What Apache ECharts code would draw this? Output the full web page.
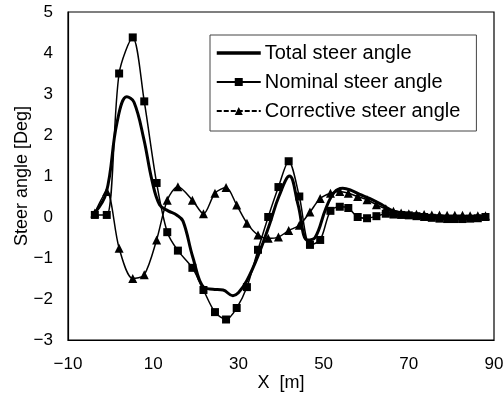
<!DOCTYPE html>
<html>
<head>
<meta charset="utf-8">
<script src="https://cdn.jsdelivr.net/npm/echarts@6/dist/echarts.min.js"></script>
<style>
  html, body { margin: 0; padding: 0; background: #fff; }
  #chart { width: 503px; height: 396px; }
</style>
</head>
<body>
<div id="chart"></div>
<script>
// Sample positions along the path [m] for the nominal and corrective signals
const stations = [-3.7, -0.9, 2.0, 5.2, 7.9, 10.8, 13.3, 15.8, 19.2, 21.8, 24.5, 27.1, 29.6, 32.0, 34.6, 37.0, 39.4, 41.8, 44.3, 46.8, 49.2, 51.6, 53.8, 55.8, 58.0, 60.2, 62.4, 64.6, 66.4, 68.2, 70.0, 71.8, 73.6, 75.4, 77.2, 79.0, 80.8, 82.6, 84.4, 86.2, 88.0];

// Nominal steer angle [deg]
const nominal = [0.05, 0.05, 3.5, 4.38, 2.82, 0.83, -0.37, -0.82, -1.24, -1.78, -2.32, -2.5, -2.22, -1.71, -0.8, 0.0, 0.73, 1.36, 0.5, -0.68, -0.56, 0.15, 0.25, 0.22, 0.0, -0.03, 0.02, 0.08, 0.06, 0.05, 0.04, 0.02, 0.0, -0.02, -0.04, -0.05, -0.05, -0.05, -0.04, -0.03, 0.0];

// Corrective steer angle [deg]
const corrective = [0.1, 0.62, -0.76, -1.5, -1.41, -0.56, 0.41, 0.74, 0.41, 0.08, 0.58, 0.72, 0.29, -0.15, -0.44, -0.52, -0.49, -0.33, -0.2, 0.12, 0.45, 0.58, 0.62, 0.58, 0.5, 0.42, 0.3, 0.2, 0.14, 0.1, 0.08, 0.07, 0.06, 0.05, 0.05, 0.04, 0.04, 0.04, 0.03, 0.03, 0.03];

// Total steer angle, traced as a smooth curve [m], [deg]
const totalX = [-3.7, -1.0, 1.5, 3.8, 5.5, 7.8, 9.7, 11.5, 13.5, 15.5, 17.0, 19.3, 21.9, 24.0, 26.4, 28.7, 30.0, 32.0, 34.6, 37.4, 39.5, 42.0, 44.0, 46.2, 48.0, 50.5, 52.5, 54.5, 56.5, 58.5, 60.9, 64.0, 66.3, 70.0, 75.0, 80.0, 85.0, 88.0];
const totalY = [0.1, 0.6, 2.3, 2.93, 2.8, 1.9, 0.9, 0.3, 0.15, 0.05, -0.1, -0.98, -1.72, -1.76, -1.78, -1.92, -1.85, -1.55, -0.95, -0.15, 0.5, 1.0, 0.3, -0.56, -0.5, 0.2, 0.6, 0.7, 0.65, 0.55, 0.45, 0.28, 0.15, 0.08, 0.02, 0.0, -0.02, 0.0];

// Axis ticks
const xTicks = [-10, 10, 30, 50, 70, 90];
const yTicks = [-3, -2, -1, 0, 1, 2, 3, 4, 5];

const seriesNames = ['Total steer angle', 'Nominal steer angle', 'Corrective steer angle'];

const pairs = (xs, ys) => xs.map((x, i) => [x, ys[i]]);
const minus = v => String(v).replace('-', '\u2212');
const FONT = '"Liberation Sans", Arial, sans-serif';

const chart = echarts.init(document.getElementById('chart'), null, { renderer: 'canvas' });
chart.setOption({
  animation: false,
  backgroundColor: '#fff',
  textStyle: { fontFamily: FONT, color: '#000' },
  grid: {
    left: 68, right: 9, top: 12, bottom: 56,
    outerBoundsMode: 'none',
    show: true, borderColor: '#000', borderWidth: 1.2
  },
  legend: {
    data: [
      { name: seriesNames[0], itemStyle: { opacity: 0 }, lineStyle: { width: 3.5 } },
      { name: seriesNames[1] },
      { name: seriesNames[2], lineStyle: { type: [5, 2] } }
    ],
    orient: 'vertical',
    left: 210,
    top: 35,
    padding: [8, 16, 10, 5],
    itemGap: 9,
    itemWidth: 44,
    itemHeight: 10,
    borderColor: '#444',
    borderWidth: 1,
    textStyle: { fontFamily: FONT, fontSize: 20, color: '#000', padding: [0, 0, 0, -1] }
  },
  xAxis: {
    type: 'value',
    min: xTicks[0],
    max: xTicks[xTicks.length - 1],
    interval: 20,
    name: 'X  [m]',
    nameLocation: 'middle',
    nameGap: 34,
    nameMoveOverlap: false,
    nameTextStyle: { fontFamily: FONT, fontSize: 18, color: '#000' },
    axisLine: { show: true, onZero: false, lineStyle: { color: '#000', width: 1.2 } },
    axisTick: { show: false },
    splitLine: { show: false },
    axisLabel: { fontFamily: FONT, fontSize: 17, color: '#000', margin: 16, formatter: minus }
  },
  yAxis: {
    type: 'value',
    min: yTicks[0],
    max: yTicks[yTicks.length - 1],
    interval: 1,
    name: 'Steer angle [Deg]',
    nameLocation: 'middle',
    nameGap: 37,
    nameMoveOverlap: false,
    nameTextStyle: { fontFamily: FONT, fontSize: 18, color: '#000' },
    axisLine: { show: true, onZero: false, lineStyle: { color: '#000', width: 1.2 } },
    axisTick: { show: false },
    splitLine: { show: false },
    axisLabel: { fontFamily: FONT, fontSize: 17, color: '#000', margin: 15, formatter: minus }
  },
  series: [
    {
      name: seriesNames[0],
      type: 'line',
      data: pairs(totalX, totalY),
      smooth: 0.4,
      showSymbol: false,
      symbol: 'none',
      lineStyle: { color: '#000', width: 3 },
      itemStyle: { color: '#000' },
      z: 3
    },
    {
      name: seriesNames[1],
      type: 'line',
      data: pairs(stations, nominal),
      smooth: 0.3,
      symbol: 'rect',
      symbolSize: 8,
      lineStyle: { color: '#000', width: 1.5 },
      itemStyle: { color: '#000' },
      z: 4
    },
    {
      name: seriesNames[2],
      type: 'line',
      data: pairs(stations, corrective),
      smooth: 0.3,
      symbol: 'triangle',
      symbolSize: 9,
      lineStyle: { color: '#000', width: 1.5 },
      itemStyle: { color: '#000' },
      z: 4
    }
  ]
});
</script>
</body>
</html>
